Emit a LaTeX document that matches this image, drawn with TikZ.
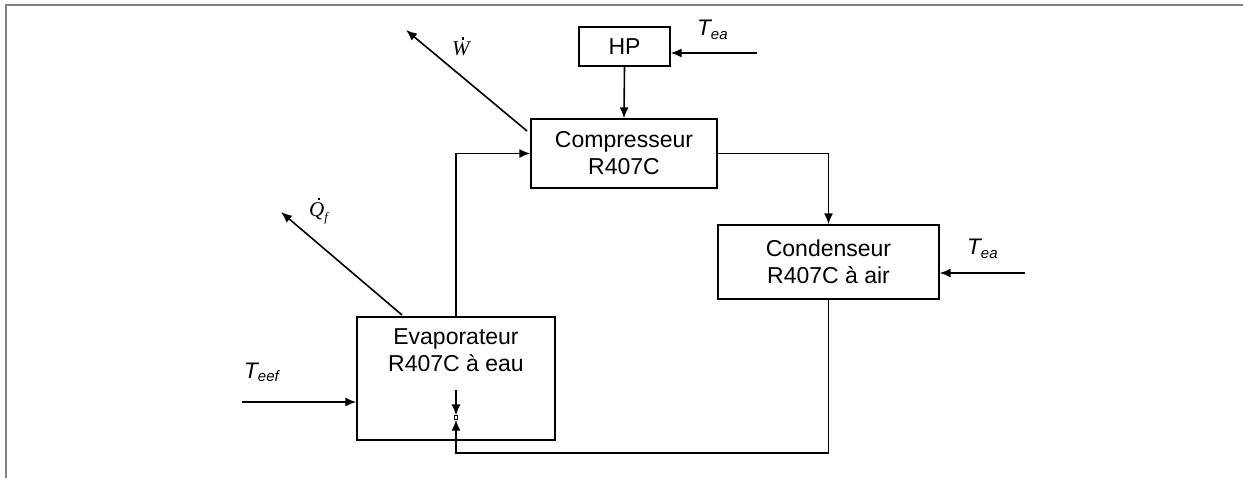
\documentclass[tikz,border=0pt]{standalone}
\usepackage{fontspec}
\setmainfont{Liberation Sans}
\newfontfamily\tms{Liberation Serif}
\usetikzlibrary{arrows.meta}
\newcommand{\bigtxt}{\fontsize{23}{27}\selectfont}
\newcommand{\lbltxt}{\fontsize{22.5}{26}\selectfont\itshape}
\newcommand{\subtxt}{\fontsize{15}{15}\selectfont\itshape}
\newcommand{\symtxt}{\fontsize{21}{24}\selectfont\tms\itshape}
\newcommand{\dotmark}{\rule{2.4pt}{2.4pt}}
\tikzset{
  blockbox/.style={draw=black, line width=1.3pt, fill=white, align=center, font=\bigtxt, inner sep=0pt},
  arr/.style={line width=1.6pt, -{Latex[length=11pt,width=9pt]}},
  lbl/.style={inner sep=0pt, anchor=base west},
  frameline/.style={draw=black!50, line width=2.2pt}
}
\begin{document}
\begin{tikzpicture}[x=1pt,y=-1pt]
\useasboundingbox (0,0) rectangle (1243,478);
% frame
\draw[frameline] (6,478) -- (6,5) -- (1243,5);

% blocks
\node[blockbox, minimum width=91pt, minimum height=39pt] (HP) at (624.5,46.5) {HP};
\node[blockbox, minimum width=186pt, minimum height=69pt] (comp) at (624,153.5) {Compresseur\\R407C};
\node[blockbox, minimum width=221pt, minimum height=74pt] (cond) at (828.5,262) {Condenseur\\R407C à air};
\node[blockbox, minimum width=198pt, minimum height=123pt,
      label={[name=evaptxt, anchor=north, yshift=-12pt, align=center, font=\bigtxt, inner sep=0pt]north:Evaporateur\\R407C à eau}]
      (evap) at (456,378.5) {};
\node[draw=black, line width=0.7pt, fill=white, minimum size=3.5pt, inner sep=0pt] (junc) at (456,417.5) {};

% coordinates of free ends
\coordinate (teaA) at (757,53);
\coordinate (teaB) at (1025,273);
\coordinate (teef) at (242,402);
\coordinate (w0) at (527,131);
\coordinate (w1) at (406,30);
\coordinate (q0) at (402,315);
\coordinate (q1) at (281,212);
\coordinate (ret) at (456,453);
\coordinate (inner) at (456,390);

% connectors
\draw[arr] (HP.south) -- (comp.north);
\draw[arr] (teaA) -- (teaA -| HP.east);
\draw[arr] (evap.north) |- (comp.west);
\draw[arr] (comp.east) -| (cond.north);
\draw[arr] (teaB) -- (teaB -| cond.east);
\draw[arr] (cond.south) |- (ret) -- (junc.south);
\draw[arr] (inner) -- (junc.north);
\draw[arr] (teef) -- (teef -| evap.west);
\draw[arr] (w0) -- (w1);
\draw[arr] (q0) -- (q1);

% labels
\node[lbl] (lblteaA) at (697,36) {\lbltxt T\raisebox{-4pt}{\subtxt ea}};
\node[lbl] (lblteaB) at (967,255) {\lbltxt T\raisebox{-4pt}{\subtxt ea}};
\node[lbl] (lblteef) at (244,378) {\lbltxt T\raisebox{-4pt}{\subtxt eef}};
\node[lbl] (lblW) at (452,56) {\symtxt\rlap{\hspace{0.46em}\raisebox{0.78em}{\dotmark}}W};
\node[lbl] (lblQ) at (309,217) {\symtxt\rlap{\hspace{0.4em}\raisebox{0.8em}{\dotmark}}Q\raisebox{-5pt}{\fontsize{13}{13}\selectfont\tms\itshape f}};
\end{tikzpicture}
\end{document}
